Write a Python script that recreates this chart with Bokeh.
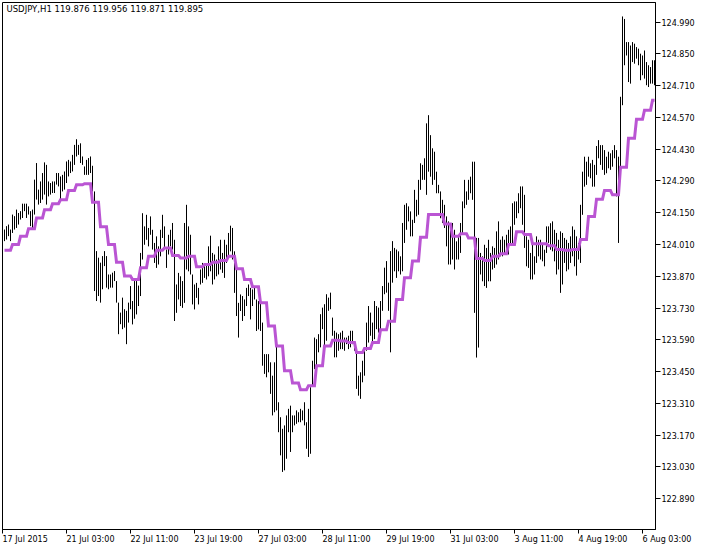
import numpy as np
from bokeh.plotting import figure
from bokeh.models import Range1d, FixedTicker, Label, NumeralTickFormatter
from bokeh.embed import file_html
from bokeh.resources import INLINE

# ---------------- data ----------------
info_text = "USDJPY,H1  119.876 119.956 119.871 119.895"

# H1 bars, one per hour, starting 17 Jul 2015 20:00 (bar index 1)
bar_high = [
    124.076, 124.091, 124.098, 124.076, 124.142, 124.135, 124.164, 124.149, 124.157, 124.190,
    124.190, 124.190, 124.178, 124.157, 124.164, 124.296, 124.369, 124.252, 124.288, 124.325,
    124.372, 124.361, 124.288, 124.281, 124.288, 124.288, 124.325, 124.325, 124.310, 124.317,
    124.332, 124.376, 124.383, 124.376, 124.405, 124.449, 124.474, 124.449, 124.456, 124.398,
    124.354, 124.383, 124.391, 124.398, 124.357, 124.244, 123.981, 123.952, 123.930, 123.959,
    123.981, 123.959, 123.878, 123.878, 123.886, 123.893, 123.849, 123.754, 123.710, 123.776,
    123.725, 123.718, 123.754, 123.827, 123.761, 123.849, 123.849, 123.829, 123.973, 124.148,
    124.090, 124.141, 124.083, 124.134, 124.075, 124.017, 124.046, 124.002, 124.075, 124.141,
    124.090, 123.988, 124.053, 124.075, 124.105, 124.031, 123.834, 123.885, 123.870, 123.849,
    124.105, 124.185, 124.090, 124.053, 123.878, 123.834, 123.841, 123.819, 123.900, 123.929,
    123.922, 123.922, 124.002, 124.049, 123.973, 123.966, 123.944, 124.002, 124.031, 123.973,
    124.031, 124.009, 124.061, 124.093, 124.083, 123.980, 123.914, 123.753, 123.790, 123.783,
    123.768, 123.819, 123.834, 123.819, 123.812, 123.827, 123.768, 123.761, 123.753, 123.666,
    123.527, 123.527, 123.527, 123.491, 123.432, 123.491, 123.571, 123.315, 123.249, 123.198,
    123.213, 123.257, 123.286, 123.300, 123.257, 123.257, 123.279, 123.271, 123.286, 123.279,
    123.315, 123.227, 123.286, 123.381, 123.498, 123.600, 123.593, 123.615, 123.703, 123.732,
    123.747, 123.791, 123.776, 123.798, 123.688, 123.630, 123.622, 123.615, 123.622, 123.630,
    123.600, 123.600, 123.608, 123.630, 123.630, 123.578, 123.542, 123.432, 123.447, 123.498,
    123.549, 123.666, 123.739, 123.710, 123.666, 123.761, 123.739, 123.732, 123.761, 123.827,
    123.908, 123.937, 123.842, 123.981, 124.025, 123.995, 123.988, 123.980, 123.958, 124.105,
    124.185, 124.192, 124.178, 124.156, 124.119, 124.251, 124.207, 124.295, 124.368, 124.361,
    124.390, 124.544, 124.580, 124.492, 124.434, 124.419, 124.331, 124.273, 124.244, 124.207,
    124.185, 124.134, 124.112, 124.075, 124.105, 124.075, 124.024, 124.046, 124.105, 124.200,
    124.295, 124.244, 124.295, 124.309, 124.375, 124.375, 124.039, 124.039, 123.973, 123.958,
    124.009, 123.995, 124.031, 123.973, 124.002, 123.995, 124.068, 124.112, 124.031, 124.046,
    124.031, 124.053, 124.075, 124.090, 124.192, 124.200, 124.200, 124.236, 124.266, 124.266,
    124.229, 124.046, 124.031, 123.973, 124.017, 123.958, 124.046, 124.031, 124.031, 124.017,
    123.987, 124.090, 124.090, 124.104, 124.112, 124.075, 124.061, 124.031, 124.068, 124.061,
    124.039, 124.031, 124.017, 124.046, 124.090, 124.075, 124.046, 124.017, 124.185, 124.331,
    124.397, 124.375, 124.397, 124.368, 124.383, 124.361, 124.444, 124.470, 124.448, 124.448,
    124.426, 124.397, 124.419, 124.412, 124.426, 124.448, 124.426, 124.397, 124.661, 125.015,
    125.004, 124.902, 124.902, 124.887, 124.902, 124.895, 124.880, 124.873, 124.851, 124.843,
    124.865, 124.814, 124.800, 124.792, 124.822, 124.822,
]
bar_low = [
    124.025, 124.032, 124.047, 124.025, 124.061, 124.076, 124.083, 124.098, 124.120, 124.127,
    124.157, 124.127, 124.142, 124.091, 124.083, 124.142, 124.208, 124.186, 124.193, 124.208,
    124.230, 124.186, 124.222, 124.230, 124.237, 124.237, 124.274, 124.266, 124.208, 124.244,
    124.252, 124.281, 124.310, 124.325, 124.332, 124.361, 124.398, 124.405, 124.369, 124.361,
    124.317, 124.317, 124.317, 124.325, 124.244, 123.805, 123.761, 123.783, 123.754, 123.813,
    123.915, 123.820, 123.813, 123.820, 123.820, 123.849, 123.754, 123.615, 123.659, 123.637,
    123.644, 123.571, 123.666, 123.725, 123.658, 123.683, 123.702, 123.739, 123.783, 123.944,
    124.009, 124.031, 124.002, 124.053, 123.988, 123.929, 123.907, 123.922, 123.958, 124.039,
    123.995, 123.907, 123.966, 124.002, 123.988, 123.673, 123.709, 123.768, 123.739, 123.731,
    123.753, 123.900, 123.892, 123.878, 123.746, 123.724, 123.775, 123.746, 123.834, 123.841,
    123.863, 123.856, 123.870, 123.892, 123.834, 123.856, 123.870, 123.878, 123.900, 123.885,
    123.863, 123.929, 123.958, 123.980, 123.944, 123.797, 123.695, 123.600, 123.717, 123.673,
    123.695, 123.739, 123.783, 123.680, 123.739, 123.768, 123.629, 123.636, 123.629, 123.476,
    123.440, 123.425, 123.447, 123.352, 123.257, 123.271, 123.279, 123.183, 123.081, 123.008,
    123.015, 123.066, 123.183, 123.096, 123.183, 123.213, 123.220, 123.227, 123.227, 123.235,
    123.213, 123.110, 123.074, 123.088, 123.388, 123.461, 123.476, 123.535, 123.557, 123.637,
    123.564, 123.586, 123.718, 123.725, 123.608, 123.513, 123.513, 123.542, 123.549, 123.549,
    123.542, 123.571, 123.549, 123.557, 123.571, 123.542, 123.374, 123.344, 123.330, 123.403,
    123.432, 123.542, 123.578, 123.608, 123.578, 123.593, 123.637, 123.622, 123.637, 123.718,
    123.791, 123.798, 123.718, 123.535, 123.842, 123.892, 123.863, 123.892, 123.878, 123.892,
    124.017, 124.075, 124.112, 124.046, 124.046, 124.105, 124.134, 124.141, 124.251, 124.295,
    124.295, 124.229, 124.331, 124.309, 124.273, 124.295, 124.236, 124.236, 124.126, 124.105,
    124.083, 124.002, 123.922, 123.922, 123.944, 123.900, 123.944, 123.944, 123.973, 124.053,
    124.170, 124.185, 124.207, 124.236, 124.207, 123.709, 123.512, 123.556, 123.878, 123.848,
    123.827, 123.819, 123.848, 123.848, 123.900, 123.907, 123.922, 123.944, 123.958, 123.958,
    123.966, 123.980, 123.966, 124.009, 124.017, 124.097, 124.126, 124.148, 124.170, 124.097,
    123.995, 123.914, 123.907, 123.856, 123.856, 123.878, 123.929, 123.958, 123.944, 123.936,
    123.914, 123.973, 124.017, 123.987, 123.980, 123.936, 123.878, 123.900, 123.797, 123.834,
    123.929, 123.892, 123.900, 123.929, 123.958, 123.914, 123.873, 123.944, 123.929, 124.141,
    124.265, 124.273, 124.309, 124.302, 124.265, 124.265, 124.317, 124.390, 124.361, 124.339,
    124.317, 124.324, 124.346, 124.339, 124.353, 124.390, 124.222, 124.017, 124.353, 124.624,
    124.800, 124.843, 124.726, 124.719, 124.814, 124.807, 124.829, 124.800, 124.734, 124.756,
    124.741, 124.712, 124.704, 124.719, 124.719, 124.712,
]

# moving average computed on H4, one value per 4 H1 bars
ma_h4 = [
    123.985, 124.010, 124.046, 124.080, 124.127, 124.163, 124.190, 124.207, 124.248, 124.273,
    124.278, 124.196, 124.088, 124.010, 123.932, 123.871, 123.856, 123.908, 123.958, 123.985,
    123.995, 123.962, 123.951, 123.958, 123.912, 123.922, 123.932, 123.940, 123.958, 123.903,
    123.856, 123.824, 123.754, 123.651, 123.563, 123.454, 123.400, 123.370, 123.388, 123.476,
    123.563, 123.588, 123.585, 123.578, 123.534, 123.552, 123.578, 123.634, 123.672, 123.768,
    123.864, 123.937, 124.042, 124.142, 124.142, 124.101, 124.046, 124.057, 124.039, 123.948,
    123.940, 123.958, 123.969, 124.010, 124.066, 124.054, 124.013, 124.013, 124.005, 123.988,
    123.985, 123.988, 124.032, 124.134, 124.210, 124.248, 124.229, 124.351, 124.478, 124.562,
    124.602, 124.646,
]

x_tick_bars = [0, 32, 64, 96, 128, 160, 192, 224, 256, 288, 320]
x_tick_labels = ["17 Jul 2015", "21 Jul 03:00", "22 Jul 11:00", "23 Jul 19:00",
                 "27 Jul 03:00", "28 Jul 11:00", "29 Jul 19:00", "31 Jul 03:00",
                 "3 Aug 11:00", "4 Aug 19:00", "6 Aug 03:00"]
y_ticks = [122.890, 123.030, 123.170, 123.310, 123.450, 123.590, 123.730, 123.870,
           124.010, 124.150, 124.290, 124.430, 124.570, 124.710, 124.850, 124.990]

# ---------------- figure ----------------
n = len(bar_high)
xs = np.arange(1, n + 1)
ma = np.repeat(np.array(ma_h4), 4)[:n]

FONT = "DejaVu Sans"
y_lo, y_hi = 122.7543, 125.0765

p = figure(width=707, height=551, output_backend="svg", toolbar_location=None,
           x_range=Range1d(0.0, 326.5), y_range=Range1d(y_lo, y_hi),
           y_axis_location="right",
           min_border_left=2, min_border_top=2, min_border_right=52, min_border_bottom=20,
           background_fill_color="white", border_fill_color="white",
           outline_line_color="black", outline_line_width=1)
p.grid.visible = False

p.segment(x0=xs, y0=bar_low, x1=xs, y1=bar_high, line_color="black", line_width=1)
p.line(xs, ma, line_color="#ba55d3", line_width=3, line_join="miter")

# right price axis
ya = p.yaxis[0]
ya.ticker = FixedTicker(ticks=y_ticks)
ya.formatter = NumeralTickFormatter(format="0.000")
ya.axis_line_color = "black"
ya.major_tick_line_color = "black"
ya.major_tick_out = 5
ya.major_tick_in = 0
ya.minor_tick_line_color = None
ya.major_label_standoff = 1
ya.major_label_text_font = FONT
ya.major_label_text_font_size = "8px"
ya.major_label_text_color = "black"

# bottom time axis; a tiny negative orientation makes labels start at the tick
xa = p.xaxis[0]
xa.ticker = FixedTicker(ticks=x_tick_bars)
xa.major_label_overrides = {t: s for t, s in zip(x_tick_bars, x_tick_labels)}
xa.major_label_orientation = -1e-6
xa.axis_line_color = "black"
xa.major_tick_line_color = "black"
xa.major_tick_out = 4
xa.major_tick_in = 0
xa.minor_tick_line_color = None
xa.major_label_text_font = FONT
xa.major_label_text_font_size = "8px"
xa.major_label_text_color = "black"
xa.major_label_standoff = 6

p.add_layout(Label(x=0, y=y_hi, text=info_text, x_offset=4, y_offset=-1,
                   text_align="left", text_baseline="top",
                   text_font=FONT, text_font_size="8.5px", text_color="black"))

open("out.html", "w").write(file_html(p, INLINE))
